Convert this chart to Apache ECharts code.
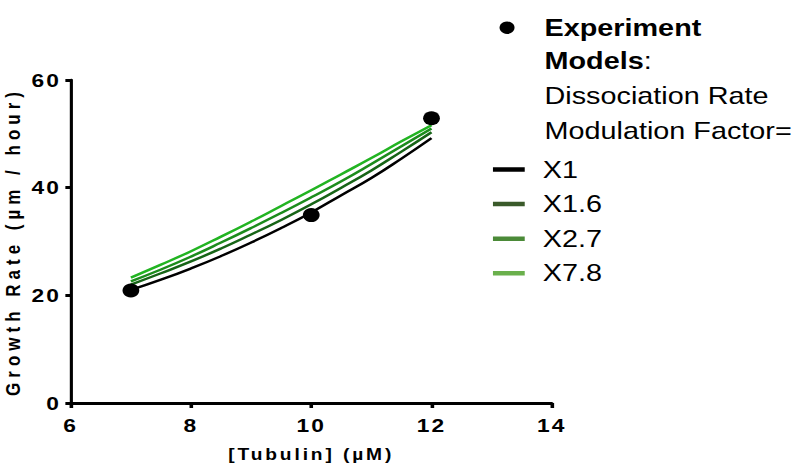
<!DOCTYPE html>
<html>
<head>
<meta charset="utf-8">
<script src="https://cdn.jsdelivr.net/npm/echarts@6/dist/echarts.min.js"></script>
<style>
html, body { margin: 0; padding: 0; background: #fff; overflow: hidden; width: 800px; height: 473px; }
#chart { width: 667px; height: 473px; transform: scaleX(1.1994); transform-origin: 0 0; }
</style>
</head>
<body>
<div id="chart"></div>
<script>
// ---- data ----
const expTubulin = [7, 10, 12];
const expRate = [20.9, 34.9, 52.9];

const modelTubulin = [7, 7.5, 8, 8.5, 9, 9.5, 10, 10.5, 11, 11.5, 12];
const modelX1   = [21.0, 22.9, 25.0, 27.3, 29.8, 32.5, 35.4, 38.6, 41.8, 45.4, 49.2];
const modelX1_6 = [22.0, 24.1, 26.3, 28.7, 31.3, 34.0, 36.9, 40.0, 43.2, 46.7, 50.3];
const modelX2_7 = [22.6, 24.8, 27.2, 29.8, 32.5, 35.3, 38.2, 41.2, 44.4, 47.7, 51.0];
const modelX7_8 = [23.3, 25.7, 28.2, 30.9, 33.7, 36.6, 39.5, 42.5, 45.5, 48.6, 51.6];

const modelNames = ['X1', 'X1.6', 'X2.7', 'X7.8'];
const xTickLabels = ['6', '8', '10', '12', '14'];
const yTickLabels = ['0', '20', '40', '60'];
const xTitle = '[Tubulin] (µM)';
const yTitle = 'Growth Rate (µm / hour)';

// ---- styles ----
const FONT = "'Liberation Sans', Arial, Helvetica, sans-serif";
const lineColors = ['#000000', '#176417', '#1c8c1c', '#22b422'];
const legendColors = ['#000000', '#3a5a2a', '#4b8a38', '#6ab04c'];

const modelValues = [modelX1, modelX1_6, modelX2_7, modelX7_8];
const pairs = (xs, ys) => xs.map((x, i) => [x, ys[i]]);

const xMin = Number(xTickLabels[0]), xMax = Number(xTickLabels[xTickLabels.length - 1]);
const yMin = Number(yTickLabels[0]), yMax = Number(yTickLabels[yTickLabels.length - 1]);

const chart = echarts.init(document.getElementById('chart'), null, { renderer: 'svg' });

const lineSeries = modelNames.map((n, i) => ({
  name: n,
  type: 'line',
  data: pairs(modelTubulin, modelValues[i]),
  symbol: 'none',
  smooth: true,
  z: 2,
  lineStyle: { color: lineColors[i], width: 2.4 },
  itemStyle: { color: lineColors[i] }
}));

chart.setOption({
  animation: false,
  backgroundColor: '#ffffff',
  textStyle: { fontFamily: FONT, color: '#000' },
  grid: { left: 59, right: 207, top: 80, bottom: 70, containLabel: false, outerBoundsMode: 'none' },
  title: {
    left: 454, top: 43.5, padding: 0,
    text: '{b|Models}:\nDissociation Rate\nModulation Factor=',
    textStyle: {
      fontFamily: FONT, fontSize: 24, fontWeight: 'normal', color: '#000', lineHeight: 35,
      rich: { b: { fontFamily: FONT, fontSize: 24, fontWeight: 'bold', color: '#000', lineHeight: 35 } }
    }
  },
  legend: [
    {
      left: 416.5, top: 15.7, padding: 0,
      icon: 'circle', itemWidth: 12.5, itemHeight: 12.5,
      data: [{ name: 'Experiment', itemStyle: { color: '#000' } }],
      textStyle: { fontFamily: FONT, fontSize: 24, fontWeight: 'bold', color: '#000', lineHeight: 24, padding: [0, 0, 0, 20] }
    },
    {
      left: 411, top: 157.5, padding: 0, orient: 'vertical',
      itemWidth: 26.5, itemHeight: 4.5, itemGap: 10.6,
      data: modelNames.map((n, i) => ({ name: n, icon: 'rect', itemStyle: { color: legendColors[i], borderWidth: 0 } })),
      textStyle: { fontFamily: FONT, fontSize: 24, color: '#000', lineHeight: 24, padding: [0, 0, 0, 10] }
    }
  ],
  xAxis: {
    type: 'value', min: xMin, max: xMax, interval: 2,
    name: xTitle, nameLocation: 'middle', nameGap: 44,
    nameTextStyle: { fontFamily: FONT, fontSize: 16, fontWeight: 'bold', color: '#000' },
    axisLine: { show: true, onZero: false, lineStyle: { color: '#000', width: 3 } },
    axisTick: { show: true, length: 5, lineStyle: { color: '#000', width: 3 } },
    splitLine: { show: false },
    axisLabel: { fontFamily: FONT, fontSize: 19, fontWeight: 'bold', color: '#000', margin: 13 }
  },
  yAxis: {
    type: 'value', min: yMin, max: yMax, interval: 20,
    name: yTitle, nameLocation: 'middle', nameGap: 32,
    nameTextStyle: { fontFamily: FONT, fontSize: 17, fontWeight: 'bold', color: '#000' },
    axisLine: { show: true, onZero: false, lineStyle: { color: '#000', width: 2.6 } },
    axisTick: { show: true, length: 4.5, lineStyle: { color: '#000', width: 3 } },
    splitLine: { show: false },
    axisLabel: { fontFamily: FONT, fontSize: 19, fontWeight: 'bold', color: '#000', margin: 8 }
  },
  series: [
    ...lineSeries,
    {
      name: 'Experiment',
      type: 'scatter',
      data: pairs(expTubulin, expRate),
      symbol: 'circle',
      symbolSize: 14,
      z: 3,
      itemStyle: { color: '#000', opacity: 1 }
    }
  ]
});

function applySpacing() {
  document.querySelectorAll('#chart text').forEach(t => {
    const s = t.textContent;
    if (s === yTitle) t.style.letterSpacing = '5px';
    else if (s === xTitle) t.style.letterSpacing = '2.4px';
    else if (xTickLabels.includes(s) || yTickLabels.includes(s)) t.style.letterSpacing = '1.8px';
  });
}
applySpacing();
chart.on('finished', applySpacing);
</script>
</body>
</html>
